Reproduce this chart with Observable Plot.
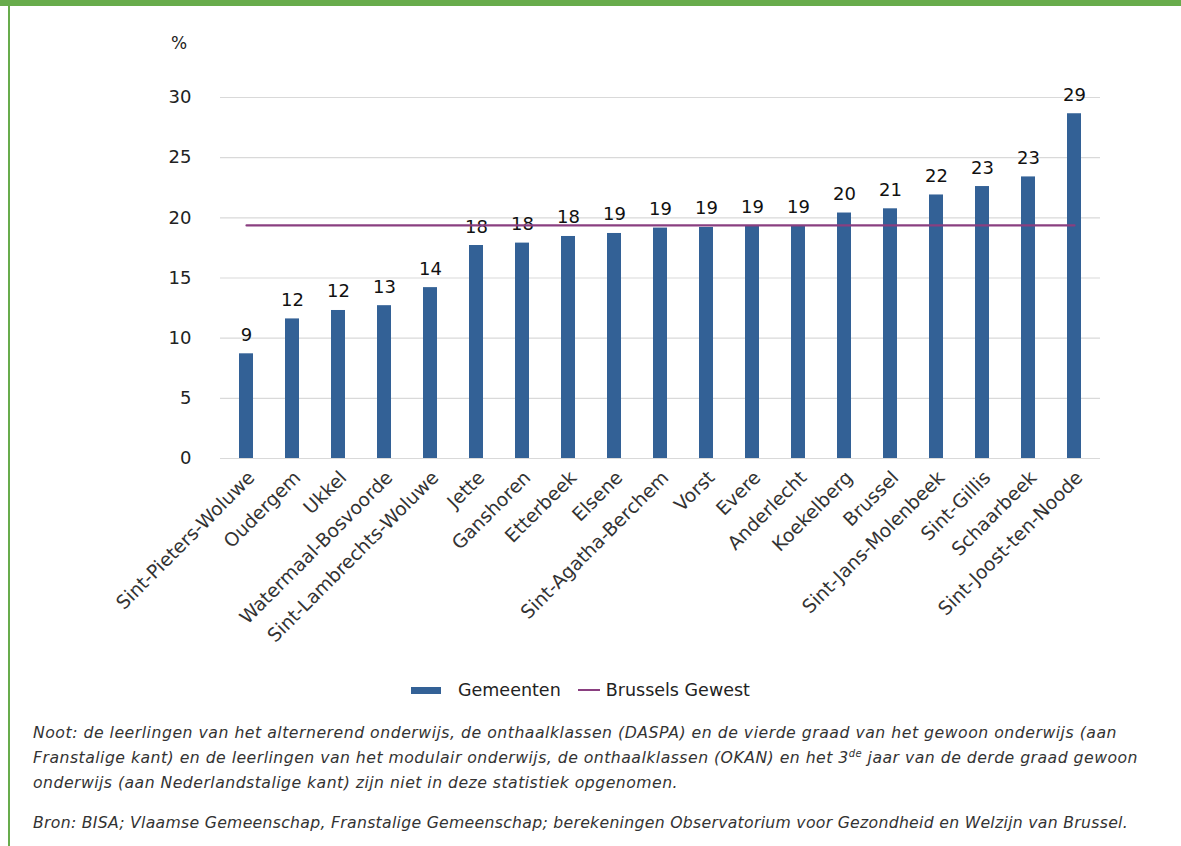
<!DOCTYPE html>
<html>
<head>
<meta charset="utf-8">
<script src="https://cdn.jsdelivr.net/npm/d3@7"></script>
<script src="https://cdn.jsdelivr.net/npm/@observablehq/plot@0.6"></script>
<style>
  html, body { margin: 0; padding: 0; background: #fff; }
  body { width: 1181px; height: 846px; position: relative; overflow: hidden; font-family: "DejaVu Sans", sans-serif; color: #222; }
  #topbar { position: absolute; left: 0; top: 0; width: 1181px; height: 6px; background: #68ac4c; }
  #leftbar { position: absolute; left: 8px; top: 0; width: 2px; height: 846px; background: #68ac4c; }
  #chart { position: absolute; left: 0; top: 0; }
  #pct { position: absolute; left: 171px; top: 33px; font-size: 17px; color: #222; }
  #legend { position: absolute; top: 680px; left: 411px; display: flex; align-items: center; font-size: 17.5px; color: #222; white-space: nowrap; }
  .sw-bar { display: inline-block; width: 30px; height: 7px; background: #336196; margin-right: 17px; }
  .sw-line { display: inline-block; width: 22px; height: 2px; background: #8a3f80; margin-left: 17px; margin-right: 6px; }
  #notes { position: absolute; left: 33px; top: 720px; font-size: 15.7px; font-style: italic; color: #333; line-height: 25px; white-space: nowrap; }
  #notes .ln { display: block; }
  #notes .ln span { display: inline-block; }
  #notes .gap { height: 15px; }
  sup { font-size: 10px; line-height: 0; vertical-align: 6px; }
</style>
</head>
<body>
<div id="topbar"></div>
<div id="leftbar"></div>
<div id="chart"></div>
<div id="pct">%</div>
<div id="legend"><span class="sw-bar"></span><span>Gemeenten</span><span class="sw-line"></span><span>Brussels Gewest</span></div>
<div id="notes">
  <div class="ln"><span data-w="1084">Noot: de leerlingen van het alternerend onderwijs, de onthaalklassen (DASPA) en de vierde graad van het gewoon onderwijs (aan</span></div>
  <div class="ln"><span data-w="1105">Franstalige kant) en de leerlingen van het modulair onderwijs, de onthaalklassen (OKAN) en het 3<sup>de</sup> jaar van de derde graad gewoon</span></div>
  <div class="ln"><span data-w="645">onderwijs (aan Nederlandstalige kant) zijn niet in deze statistiek opgenomen.</span></div>
  <div class="gap"></div>
  <div class="ln"><span data-w="1095">Bron: BISA; Vlaamse Gemeenschap, Franstalige Gemeenschap; berekeningen Observatorium voor Gezondheid en Welzijn van Brussel.</span></div>
</div>
<script>
const gemeenten = ["Sint-Pieters-Woluwe","Oudergem","Ukkel","Watermaal-Bosvoorde","Sint-Lambrechts-Woluwe","Jette","Ganshoren","Etterbeek","Elsene","Sint-Agatha-Berchem","Vorst","Evere","Anderlecht","Koekelberg","Brussel","Sint-Jans-Molenbeek","Sint-Gillis","Schaarbeek","Sint-Joost-ten-Noode"];
const waarden = [8.7,11.6,12.3,12.7,14.2,17.7,17.9,18.45,18.7,19.15,19.2,19.3,19.3,20.4,20.75,21.9,22.6,23.4,28.65];
const brusselsGewest = 19.37;
const yTicks = [0,5,10,15,20,25,30];

const data = gemeenten.map((g, i) => ({gemeente: g, waarde: waarden[i], label: String(Math.round(waarden[i]))}));

const chart = Plot.plot({
  width: 1181,
  height: 665,
  marginLeft: 220,
  marginRight: 81,
  marginTop: 97,
  marginBottom: 207,
  style: {fontFamily: "'DejaVu Sans', sans-serif", fontSize: "18px", color: "#222", background: "transparent"},
  x: {domain: gemeenten, paddingInner: 0.7, paddingOuter: 0.35, align: 0.5, label: null},
  y: {domain: [0, 30], ticks: yTicks, label: null},
  marks: [
    Plot.gridY(yTicks, {stroke: "#d9d9d9", strokeOpacity: 1, strokeWidth: 1.2}),
    Plot.axisY(yTicks, {tickSize: 0, tickPadding: 29, fontSize: 18, label: null}),
    Plot.axisX({tickSize: 0, tickPadding: 12, dx: 5, dy: 4, tickRotate: -45, fontSize: 18.8, fill: "#333", label: null}),
    Plot.barY(data, {x: "gemeente", y: "waarde", fill: "#336196"}),
    Plot.text(data, {x: "gemeente", y: "waarde", text: "label", lineAnchor: "bottom", dy: -13, fontSize: 18, fill: "#111"}),
    Plot.lineY([gemeenten[0], gemeenten[gemeenten.length - 1]], {x: d => d, y: () => brusselsGewest, stroke: "#8a3f80", strokeWidth: 2.2})
  ]
});
document.getElementById("chart").appendChild(chart);

function fitNotes() {
  document.querySelectorAll("#notes .ln span").forEach(el => {
    el.style.letterSpacing = "0px";
    const target = +el.dataset.w;
    const w = el.getBoundingClientRect().width;
    const n = el.textContent.length;
    el.style.letterSpacing = ((target - w) / n) + "px";
  });
}
fitNotes();
if (document.fonts && document.fonts.ready) document.fonts.ready.then(fitNotes);
</script>
</body>
</html>
